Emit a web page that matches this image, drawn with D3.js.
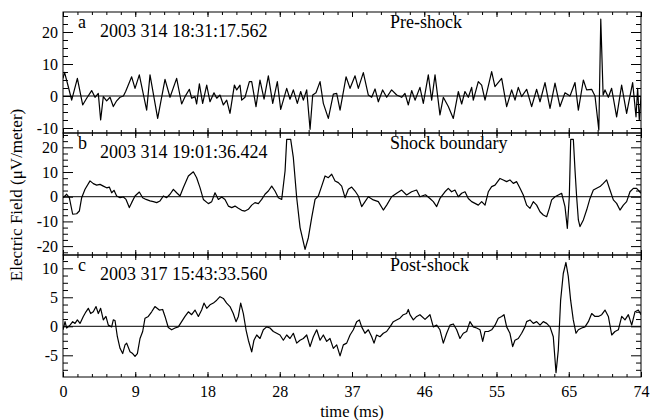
<!DOCTYPE html>
<html>
<head>
<meta charset="utf-8">
<script src="https://cdn.jsdelivr.net/npm/d3@7"></script>
<style>
  body { margin: 0; background: #fff; }
  svg { display: block; }
  text { font-family: "Liberation Serif", "Times New Roman", serif; fill: #000; }
</style>
</head>
<body>
<div id="chart"></div>
<script>
// time axis (ms)
var timeRange = [0, 74];
var xTickLabels = ["0", "9", "18", "28", "37", "46", "55", "65", "74"];

// panel annotations
var panelLetters = ["a", "b", "c"];
var panelDates = ["2003 314 18:31:17.562", "2003 314 19:01:36.424", "2003 317 15:43:33.560"];
var panelTitles = ["Pre-shock", "Shock boundary", "Post-shock"];

// y axes (uV/meter)
var yDomains = [[-11.56, 26.25], [-23.6, 25.8], [-8.74, 12.29]];
var yTickValues = [[-10, 0, 10, 20], [-20, -10, 0, 10, 20], [-5, 0, 5, 10]];
var yMinorSteps = [2.5, 2.5, 1.25];

// [time ms, field uV/m]
var preShock = [
  [0, 5.5], [0.2, 7.4], [0.68, 2.9], [1.11, -1.3], [1.84, 5.5], [2.52, -2.8], [3.03, -0.7], [3.67, 1.7],
  [4.10, -0.4], [4.52, 0.8], [4.82, -7.5], [5.16, -0.2], [5.59, -1.5], [6.02, -0.4], [6.44, -3.3], [6.87, -1.5],
  [7.30, -0.4], [7.73, 0], [8.02, 1.4], [8.79, 6.0], [9.22, 2.4], [9.77, 6.6], [10.71, -4.4], [11.14, 6.6],
  [12.12, -7.0], [13.06, 5.2], [13.70, -0.4], [14.55, 5.5], [15.19, -2.5], [15.62, -0.2], [16.18, 2.1], [16.47, -0.7],
  [16.90, -0.2], [17.11, -2.5], [17.46, 3.8], [17.88, -2.3], [18.40, 3.4], [18.82, -1.8], [19.33, 1.0], [19.68, -0.7],
  [20.10, 0.3], [20.53, -2.8], [20.96, -1.3], [21.38, -5.4], [21.94, 3.4], [22.24, 1.9], [22.66, 3.4], [22.88, -1.3],
  [23.30, -0.4], [23.86, 4.5], [24.16, 4.5], [24.71, -3.3], [25.22, 5.0], [25.74, -1.0], [26.29, 6.3], [26.85, -2.3],
  [27.44, 4.5], [27.87, -4.2], [28.64, 2.4], [29.06, -1.0], [29.49, 1.9], [30.00, -2.3], [30.43, 1.4], [30.77, -1.3],
  [31.20, 1.9], [31.63, -10.4], [31.97, 0.3], [32.39, 1.0], [32.91, 4.5], [33.33, -2.3], [33.97, -7.0], [34.61, 0.6],
  [35.04, 0.8], [35.47, -4.4], [36.24, 6.0], [36.75, 2.4], [37.39, 6.3], [37.81, 2.4], [38.45, 7.3], [39.09, 0.3],
  [39.52, -0.4], [39.95, 2.2], [40.37, -1.8], [40.92, 1.9], [41.44, -0.4], [42.07, 1.9], [42.72, 0.3], [43.36, -0.4],
  [43.78, 0.8], [44.21, -2.8], [44.64, 1.7], [45.07, -1.3], [45.70, 2.7], [46.13, -2.3], [46.77, 6.6], [47.20, -1.3],
  [47.63, 6.6], [48.26, -5.9], [48.69, -0.4], [49.33, -3.3], [49.97, -7.0], [50.61, 1.4], [51.04, -2.5], [51.46, 1.4],
  [51.89, -0.4], [52.32, 2.7], [52.53, -1.3], [53.17, 4.5], [53.60, 3.4], [54.03, -1.3], [54.88, 7.6], [55.30, 2.9],
  [56.16, 5.5], [56.80, -3.3], [57.44, 1.9], [57.87, -1.3], [58.29, 2.7], [58.72, -0.2], [59.36, 2.1], [60.00, -3.3],
  [60.64, 2.1], [61.07, -1.8], [61.71, 4.2], [62.35, -3.9], [62.99, 4.0], [63.63, -3.3], [64.27, 1.0], [64.91, 0],
  [65.55, 4.2], [65.98, -4.4], [66.62, 5.0], [67.04, 1.9], [67.68, 2.1], [68.11, 0], [68.6, -10.6], [68.85, 24.0],
  [69.15, 0.3], [69.39, 1.9], [69.82, -0.4], [70.24, 2.4], [70.88, -6.5], [71.52, 3.4], [72.16, -5.4], [72.93, 4.2],
  [73.36, -6.5], [73.57, 2.4], [73.78, -7.5], [74.0, -0.2]
];

var shockBoundary = [
  [0, -0.4], [0.47, 1.0], [0.81, -0.4], [1.24, -7.1], [1.75, -6.9], [2.09, -5.8], [2.39, -0.4], [2.82, 3.0],
  [3.46, 6.4], [3.88, 5.3], [4.31, 4.7], [4.74, 5.0], [5.16, 4.3], [5.59, 3.6], [5.93, 3.9], [6.23, 1.6],
  [6.53, 2.6], [6.87, 0.3], [7.30, -0.4], [7.73, -0.1], [8.07, -1.1], [8.49, -4.4], [8.79, -2.4], [9.22, 0.3],
  [9.77, 1.9], [10.20, -0.4], [10.63, -1.1], [11.14, -1.7], [11.57, -2.0], [11.99, -2.4], [12.42, -1.7], [12.85, 0.3],
  [13.27, -0.4], [13.70, 1.0], [14.13, 3.0], [14.55, 1.6], [14.98, 0.3], [15.41, 3.7], [16.05, 8.4], [16.69, 10.1],
  [17.11, 7.7], [17.54, 3.7], [17.97, -1.1], [18.61, -2.8], [19.04, -2.0], [19.46, 1.6], [19.89, -1.1], [20.32, -0.1],
  [20.74, -1.1], [21.17, -3.8], [21.60, -4.4], [22.02, -3.8], [22.45, -4.7], [22.88, -5.5], [23.30, -5.8], [23.73, -5.1],
  [24.16, -3.4], [24.58, -2.4], [25.01, -2.8], [25.44, -1.1], [25.86, 1.0], [26.29, 2.3], [26.72, 4.3], [27.14, 2.3],
  [27.57, -0.4], [28.00, -1.1], [28.43, 10.4], [28.64, 23.2], [29.15, 23.2], [29.49, 15.8], [29.92, -0.4], [30.35, -12.5],
  [30.99, -21.3], [31.41, -16.6], [31.84, -8.5], [32.27, -1.1], [32.69, 0.3], [33.12, 4.3], [33.55, 8.4], [33.97, 7.7],
  [34.40, 9.1], [34.83, 6.4], [35.25, 5.7], [35.68, 4.3], [36.11, -0.4], [36.53, 3.0], [36.96, 3.9], [37.39, 2.3],
  [37.81, 0.3], [38.24, -4.0], [38.67, -2.0], [39.09, 0], [39.73, -1.3], [40.37, -2.0], [41.01, -5.4], [41.44, -3.4],
  [42.07, 0], [42.72, 1.4], [43.36, 2.7], [43.99, 0.7], [44.63, 2.0], [45.27, 2.7], [45.70, 0], [46.40, 0.8],
  [46.98, -0.7], [47.41, -2.0], [47.84, -4.0], [48.26, -0.7], [48.90, 2.0], [49.33, 3.4], [49.75, 2.0], [50.18, 2.7],
  [50.61, 0], [51.04, 1.4], [51.47, 2.0], [51.89, -0.7], [52.32, -2.0], [52.75, -2.7], [53.17, -3.4], [53.60, -2.0],
  [54.03, -3.4], [54.45, 2.0], [54.88, 4.1], [55.31, 4.7], [55.95, 7.4], [56.37, 6.8], [56.80, 6.1], [57.22, 6.8],
  [57.65, 5.4], [58.08, 6.1], [58.51, 3.4], [58.93, 0.7], [59.36, -3.4], [59.79, -4.7], [60.21, -2.0], [60.64, -3.4],
  [61.07, -6.1], [61.49, -7.4], [61.92, -8.1], [62.26, -4.7], [62.56, -1.3], [62.99, 0], [63.42, 0.7], [63.84, 1.4],
  [64.27, -4.0], [64.57, -12.8], [64.82, 0], [65.00, 23.2], [65.34, 23.2], [65.55, 10.8], [65.76, 0], [65.98, -9.4],
  [66.19, -12.1], [66.62, -9.4], [67.04, -5.4], [67.47, -0.7], [67.90, 2.7], [68.32, 3.4], [68.75, 4.1], [69.18, 5.4],
  [69.60, 6.8], [70.03, 2.7], [70.46, -1.3], [70.88, -2.7], [71.31, -5.4], [71.74, -3.4], [72.16, -2.0], [72.59, 2.0],
  [73.02, 3.4], [73.44, 3.4], [74.0, 1.4]
];

var postShock = [
  [0, -0.6], [0.26, 0.8], [0.47, -0.3], [0.90, 0.2], [1.24, 0.8], [1.54, 0.5], [1.84, 1.1], [2.18, 0.5],
  [2.60, 1.7], [2.94, 2.5], [3.24, 3.1], [3.54, 2.2], [3.88, 2.5], [4.23, 3.4], [4.52, 2.2], [4.82, 3.1],
  [5.16, 1.1], [5.50, 1.7], [5.80, 0.2], [6.23, -0.1], [6.44, 1.1], [6.66, 1.0], [6.96, -1.8], [7.30, -3.8],
  [7.64, -4.7], [7.94, -3.2], [8.15, -2.9], [8.58, -4.4], [8.92, -4.7], [9.22, -5.2], [9.52, -4.7], [9.86, -2.1],
  [10.20, -0.9], [10.50, 1.4], [10.92, 1.7], [11.35, 2.5], [11.77, 3.4], [12.33, 2.8], [12.76, 2.9], [13.06, 1.7],
  [13.48, -0.2], [13.91, -0.6], [14.34, -0.3], [14.76, -0.1], [15.19, 0.8], [15.62, 1.7], [16.05, 2.5], [16.47, 2.0],
  [16.90, 2.8], [17.33, 1.7], [17.75, 2.8], [18.05, 4.0], [18.40, 3.1], [18.82, 3.7], [19.25, 4.0], [19.68, 4.5],
  [20.10, 5.1], [20.53, 4.8], [20.95, 4.0], [21.38, 3.4], [21.80, 2.2], [22.15, 0.8], [22.45, 1.7], [22.75, 4.0],
  [23.09, 2.2], [23.43, -0.6], [23.73, -2.4], [24.16, -4.4], [24.45, -2.4], [24.80, -1.5], [25.22, -2.1], [25.65, -0.6],
  [26.07, -0.1], [26.50, -0.3], [26.93, -0.9], [27.36, -1.2], [27.78, -1.5], [28.21, -2.4], [28.64, -1.5], [29.06, -2.1],
  [29.49, -1.2], [29.92, -2.9], [30.34, -2.4], [30.77, -2.1], [31.20, -1.5], [31.63, -3.5], [32.05, -1.8], [32.48, -0.6],
  [32.91, -2.4], [33.33, -1.5], [33.76, -2.6], [34.18, -2.1], [34.61, -3.8], [35.04, -3.2], [35.47, -5.1], [35.89, -3.2],
  [36.32, -2.9], [36.75, -1.5], [37.17, -0.6], [37.60, 0.8], [37.94, 1.1], [38.24, -0.1], [38.66, -1.2], [39.09, -0.6],
  [39.52, -1.8], [39.82, -2.9], [40.15, -1.5], [40.58, -1.8], [41.01, -1.2], [41.43, -0.9], [41.86, -0.1], [42.29, 0.8],
  [42.71, 1.1], [43.14, 1.4], [43.57, 2.0], [43.99, 2.2], [44.21, 2.9], [44.42, 2.0], [44.85, 1.1], [45.28, 1.7],
  [45.70, 2.0], [46.35, 1.2], [46.98, 2.0], [47.41, -0.1], [47.84, 0.2], [48.26, -0.6], [48.69, -2.9], [49.12, -1.2],
  [49.55, 0.2], [49.97, 0.4], [50.40, -0.6], [50.82, -2.1], [51.25, -1.2], [51.68, -0.9], [52.10, 0.8], [52.53, -0.1],
  [52.96, -0.3], [53.39, -0.6], [53.73, -2.6], [54.02, -0.9], [54.45, -0.9], [54.88, -0.6], [55.31, 0.2], [55.73, 1.4],
  [56.16, 1.7], [56.46, 2.0], [56.80, -0.1], [57.22, -1.2], [57.57, -3.5], [57.86, -2.4], [58.29, -2.1], [58.72, -1.2],
  [59.14, -0.1], [59.36, 0.8], [59.79, 1.1], [60.21, 0.5], [60.64, 0.8], [61.07, 0.2], [61.49, 0.8], [61.92, 0.5],
  [62.35, -0.1], [62.77, -1.8], [63.12, -8.0], [63.41, -4.1], [63.71, 4.5], [64.05, 9.1], [64.39, 11.0], [64.69, 8.6],
  [64.99, 4.5], [65.33, 1.1], [65.68, -1.2], [65.98, -0.6], [66.41, -0.3], [66.83, -0.1], [67.26, 0.8], [67.69, 2.2],
  [68.11, 1.7], [68.54, 1.7], [68.97, 2.0], [69.39, 2.8], [69.82, 1.7], [70.25, -1.5], [70.67, -0.9], [71.10, -0.6],
  [71.53, 1.7], [71.95, 1.1], [72.38, 2.0], [72.81, 0.2], [73.23, 2.5], [73.66, 2.8], [74.0, 2.0]
];

var panelData = [preShock, shockBoundary, postShock];

var width = 650, height = 420;
var left = 63, right = 641;
var panelTops = [12, 133, 255], panelBottoms = [133, 255, 377];

var svg = d3.select("#chart").append("svg")
  .attr("width", width)
  .attr("height", height);

var x = d3.scaleLinear().domain(timeRange).range([left, right]);

var xMajor = d3.range(xTickLabels.length).map(function (i) { return i * timeRange[1] / (xTickLabels.length - 1); });
var xMinor = d3.range(0, 5 * (xTickLabels.length - 1) + 1).map(function (i) { return i * timeRange[1] / (5 * (xTickLabels.length - 1)); });

function styleAxis(g) {
  g.select(".domain").remove();
  g.selectAll("line").attr("stroke", "#000").attr("stroke-width", 1);
  g.selectAll("text").attr("font-size", 16).attr("fill", "#000");
  g.attr("font-family", null).attr("font-size", null);
}

function drawPanel(i) {
  var top = panelTops[i], bottom = panelBottoms[i];
  var y = d3.scaleLinear().domain(yDomains[i]).range([bottom, top]);
  var g = svg.append("g");

  var clipId = "clip" + i;
  g.append("clipPath").attr("id", clipId)
    .append("rect").attr("x", left).attr("y", top).attr("width", right - left).attr("height", bottom - top);

  // zero line
  g.append("line")
    .attr("x1", left).attr("x2", right)
    .attr("y1", y(0)).attr("y2", y(0))
    .attr("stroke", "#000").attr("stroke-width", 1);

  var line = d3.line()
    .x(function (d) { return x(d[0]); })
    .y(function (d) { return y(d[1]); });

  g.append("path")
    .datum(panelData[i])
    .attr("clip-path", "url(#" + clipId + ")")
    .attr("d", line)
    .attr("fill", "none")
    .attr("stroke", "#000")
    .attr("stroke-width", 1.2)
    .attr("stroke-linejoin", "round");

  // minor y ticks
  var step = yMinorSteps[i];
  var minorY = d3.range(Math.ceil(yDomains[i][0] / step) * step, yDomains[i][1], step)
    .filter(function (v) { return yTickValues[i].indexOf(v) < 0; });

  g.append("g").attr("transform", "translate(" + left + ",0)")
    .call(d3.axisLeft(y).tickValues(minorY).tickSize(-5).tickFormat(""))
    .call(styleAxis);
  g.append("g").attr("transform", "translate(" + right + ",0)")
    .call(d3.axisRight(y).tickValues(minorY).tickSize(-5).tickFormat(""))
    .call(styleAxis);

  // major y ticks
  g.append("g").attr("transform", "translate(" + left + ",0)")
    .call(d3.axisLeft(y).tickValues(yTickValues[i]).tickSize(-10).tickPadding(5)
      .tickFormat(function (d) { return String(d); }))
    .call(styleAxis);
  g.append("g").attr("transform", "translate(" + right + ",0)")
    .call(d3.axisRight(y).tickValues(yTickValues[i]).tickSize(-10).tickFormat(""))
    .call(styleAxis);

  // x ticks top and bottom
  g.append("g").attr("transform", "translate(0," + top + ")")
    .call(d3.axisTop(x).tickValues(xMinor).tickSize(-3).tickFormat(""))
    .call(styleAxis);
  g.append("g").attr("transform", "translate(0," + top + ")")
    .call(d3.axisTop(x).tickValues(xMajor).tickSize(-5).tickFormat(""))
    .call(styleAxis);
  g.append("g").attr("transform", "translate(0," + bottom + ")")
    .call(d3.axisBottom(x).tickValues(xMinor).tickSize(-3).tickFormat(""))
    .call(styleAxis);
  var xb = d3.axisBottom(x).tickValues(xMajor).tickSize(-5).tickPadding(9);
  if (i === 2) {
    xb.tickFormat(function (d, k) { return xTickLabels[k]; });
  } else {
    xb.tickFormat("");
  }
  g.append("g").attr("transform", "translate(0," + bottom + ")")
    .call(xb)
    .call(styleAxis);

  // frame
  g.append("rect")
    .attr("x", left).attr("y", top)
    .attr("width", right - left).attr("height", bottom - top)
    .attr("fill", "none").attr("stroke", "#000").attr("stroke-width", 1);

  // annotations
  g.append("text").attr("x", 78).attr("y", top + 16).attr("font-size", 18).text(panelLetters[i]);
  g.append("text").attr("x", 100).attr("y", top + 25).attr("font-size", 18).text(panelDates[i]);
  g.append("text").attr("x", 390).attr("y", top + 16).attr("font-size", 18).text(panelTitles[i]);
}

for (var i = 0; i < 3; i++) drawPanel(i);

svg.append("text")
  .attr("x", (left + right) / 2)
  .attr("y", 416.5)
  .attr("text-anchor", "middle")
  .attr("font-size", 16.5)
  .text("time (ms)");

svg.append("text")
  .attr("transform", "translate(22,195) rotate(-90)")
  .attr("text-anchor", "middle")
  .attr("font-size", 17)
  .text("Electric Field (\u03bcV/meter)");
</script>
</body>
</html>
